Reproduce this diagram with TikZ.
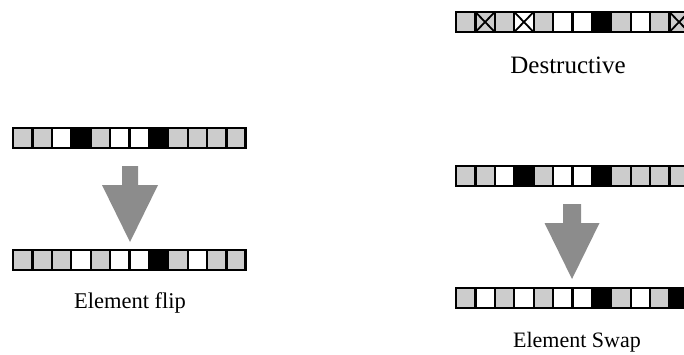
\documentclass[tikz,border=0pt]{standalone}
\usepackage{fontspec}
\setmainfont{Liberation Serif}
\usetikzlibrary{calc}

\tikzset{
  cell/.style={draw=black, line width=2.2},
  cellg/.style={cell, fill=black!20},
  cellw/.style={cell, fill=white},
  cellb/.style={cell, fill=black},
  crossed/.style={path picture={
      \draw[line width=1.8] (path picture bounding box.north west) -- (path picture bounding box.south east)
                            (path picture bounding box.south west) -- (path picture bounding box.north east);}},
  cellgx/.style={cellg, crossed},
  cellwx/.style={cellw, crossed},
  frame/.style={draw=black, line width=2.8},
  bigarrow/.style={fill=black!45, draw=none},
  caption/.style={anchor=base, inner sep=0pt}
}

% one row of twelve cells: x, y, list of cell kinds
\newcommand{\cellrow}[3]{%
  \foreach \c [count=\i from 0] in {#3}{
    \draw[cell\c] ({#1+\i*\cw},#2) rectangle ++(\cw,\ch);
  }
  \draw[frame] (#1,#2) rectangle ++(12*\cw,\ch);
}
% block arrow pointing down: centre x, top, shaft width, head start, head width, tip
\newcommand{\blockarrow}[6]{%
  \fill[bigarrow] ({#1-#3/2},#2) -- ({#1+#3/2},#2) -- ({#1+#3/2},#4) -- ({#1+#5/2},#4)
    -- (#1,#6) -- ({#1-#5/2},#4) -- ({#1-#3/2},#4) -- cycle;
}

\begin{document}
\begin{tikzpicture}[x=1pt, y=-1pt]
    \useasboundingbox (0,0) rectangle (684,354);
    \def\cw{19.4}; % cell width
    \def\ch{20}; % cell height

    \def\flx{13}; % element flip x coordinate
    \def\flya{128}; % element flip row before
    \def\flyb{250}; % element flip row after

    \def\rx{456}; % right column x coordinate
    \def\dey{12}; % destructive row
    \def\swya{166}; % element swap row before
    \def\swyb{288}; % element swap row after

    % element flip %%%%%%%%%%%%%%%%%%%%%%%%%%%%%%%%%%%%%%%%%%%%%%%%%%%%%%%%%%%%%%%%%%%%%%%%%%%%%%%
    \cellrow{\flx}{\flya}{g,g,w,b,g,w,w,b,g,g,g,g}
    \blockarrow{130}{166}{16}{185}{56}{242}
    \cellrow{\flx}{\flyb}{g,g,g,w,g,w,w,b,g,w,g,g}

    % destructive %%%%%%%%%%%%%%%%%%%%%%%%%%%%%%%%%%%%%%%%%%%%%%%%%%%%%%%%%%%%%%%%%%%%%%%%%%%%%%%%
    \cellrow{\rx}{\dey}{g,gx,g,wx,g,w,w,b,g,w,g,gx}

    % element swap %%%%%%%%%%%%%%%%%%%%%%%%%%%%%%%%%%%%%%%%%%%%%%%%%%%%%%%%%%%%%%%%%%%%%%%%%%%%%%%
    \cellrow{\rx}{\swya}{g,g,w,b,g,w,w,b,g,g,g,g}
    \blockarrow{572}{204}{18}{223}{55}{279}
    \cellrow{\rx}{\swyb}{g,w,g,w,g,w,w,b,g,w,g,b}

    % annotations %%%%%%%%%%%%%%%%%%%%%%%%%%%%%%%%%%%%%%%%%%%%%%%%%%%%%%%%%%%%%%%%%%%%%%%%%%%%%%%%
    \node[caption, font=\fontsize{25}{28}\selectfont] (destructive) at (568, 73) {Destructive};
    \node[caption, font=\fontsize{22.5}{26}\selectfont] (flip) at (130, 308) {Element flip};
    \node[caption, font=\fontsize{22}{26}\selectfont] (swap) at (577, 347) {Element Swap};
\end{tikzpicture}
\end{document}
